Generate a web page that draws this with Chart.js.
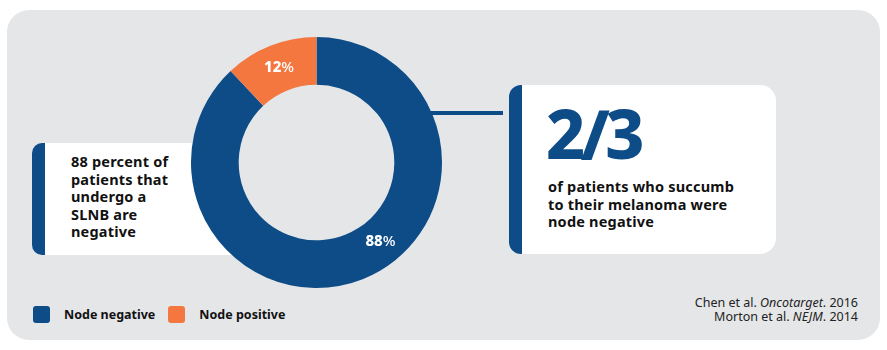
<!DOCTYPE html>
<html>
<head>
<meta charset="utf-8">
<script src="https://cdn.jsdelivr.net/npm/chart.js@4.4.1/dist/chart.umd.min.js"></script>
<style>
  html, body { margin: 0; padding: 0; background: #fff; }
  body { width: 887px; height: 350px; position: relative; overflow: hidden; font-family: "Noto Sans", sans-serif; }
  .panel { position: absolute; left: 7px; top: 10px; width: 873px; height: 330px; border-radius: 22px; background: #e5e6e8; }
  .card { position: absolute; background: #fff; box-sizing: border-box; border-left: 13px solid #0d4c87; }
  .card-left { left: 32px; top: 143px; width: 206px; height: 112px; border-radius: 10px 0 0 10px; }
  .card-right { left: 509px; top: 85px; width: 267px; height: 169px; border-radius: 12px 16px 16px 12px; }
  .card-text { position: absolute; font-weight: 700; color: #111; font-size: 14.5px; line-height: 17.5px; letter-spacing: 0.2px; }
  .card-left .card-text { left: 26px; top: 10px; }
  .card-right .card-text { left: 26px; top: 93px; }
  .big { position: absolute; left: 24px; top: 9px; font-size: 68px; line-height: 78px; font-weight: 800; color: #0d4c87; letter-spacing: -4.5px; }
  .connector { position: absolute; left: 430px; top: 111px; width: 73px; height: 4px; background: #0d4c87; }
  #donut { position: absolute; left: 191px; top: 37px; }
  .legend { position: absolute; left: 33px; top: 306px; display: flex; align-items: center; font-size: 12.5px; font-weight: 700; color: #111; }
  .legend-item { display: flex; align-items: center; margin-right: 13px; }
  .legend-box { width: 17px; height: 17px; border-radius: 3px; margin-right: 14px; }
  .cite { position: absolute; right: 29px; top: 296px; text-align: right; font-size: 12.5px; line-height: 14px; color: #222; }
</style>
</head>
<body>
<div class="panel"></div>
<div class="card card-left">
  <div class="card-text">88 percent of<br>patients that<br>undergo a<br>SLNB are<br>negative</div>
</div>
<div class="connector"></div>
<div class="card card-right">
  <div class="big">2/3</div>
  <div class="card-text">of patients who succumb<br>to their melanoma were<br>node negative</div>
</div>
<canvas id="donut" width="251" height="251"></canvas>
<div class="legend" id="legend"></div>
<div class="cite">Chen et al. <i>Oncotarget</i>. 2016<br>Morton et al. <i>NEJM</i>. 2014</div>

<script>
const categories = ['Node negative', 'Node positive'];
const shares = [88, 12];
const sliceColors = ['#0d4c87', '#f3773f'];

// where along each arc its percentage sits (0 = arc start, 1 = arc end)
const labelAnchors = [0.445, 0.5];

const sliceLabels = {
  id: 'sliceLabels',
  afterDatasetsDraw(chart) {
    const ctx = chart.ctx;
    const meta = chart.getDatasetMeta(0);
    meta.data.forEach((arc, i) => {
      const p = arc.getProps(['x', 'y', 'startAngle', 'endAngle', 'innerRadius', 'outerRadius'], true);
      const angle = p.startAngle + (p.endAngle - p.startAngle) * labelAnchors[i];
      const r = (p.innerRadius + p.outerRadius) / 2;
      const cx = p.x + Math.cos(angle) * r;
      const cy = p.y + Math.sin(angle) * r;
      const num = String(shares[i]);
      ctx.save();
      ctx.fillStyle = '#fff';
      ctx.textBaseline = 'middle';
      ctx.font = '800 15px "Noto Sans"';
      const wNum = ctx.measureText(num).width;
      ctx.font = '500 15px "Noto Sans"';
      const wPct = ctx.measureText('%').width;
      const left = cx - (wNum + wPct) / 2;
      ctx.textAlign = 'left';
      ctx.font = '800 15px "Noto Sans"';
      ctx.fillText(num, left, cy);
      ctx.font = '500 15px "Noto Sans"';
      ctx.fillText('%', left + wNum, cy);
      ctx.restore();
    });
  }
};

const donutChart = new Chart(document.getElementById('donut'), {
  type: 'doughnut',
  data: {
    labels: categories,
    datasets: [{
      data: shares,
      backgroundColor: sliceColors,
      borderWidth: 0,
      hoverOffset: 0
    }]
  },
  options: {
    responsive: false,
    maintainAspectRatio: false,
    animation: false,
    cutout: '62%',
    layout: { padding: 0 },
    plugins: {
      legend: { display: false },
      tooltip: { enabled: false }
    }
  },
  plugins: [sliceLabels]
});

// legend built from the chart's own labels and colours
const legendNode = document.getElementById('legend');
donutChart.data.labels.forEach((label, i) => {
  const item = document.createElement('div');
  item.className = 'legend-item';
  const box = document.createElement('span');
  box.className = 'legend-box';
  box.style.background = donutChart.data.datasets[0].backgroundColor[i];
  const text = document.createElement('span');
  text.textContent = label;
  item.appendChild(box);
  item.appendChild(text);
  legendNode.appendChild(item);
});
</script>
</body>
</html>
